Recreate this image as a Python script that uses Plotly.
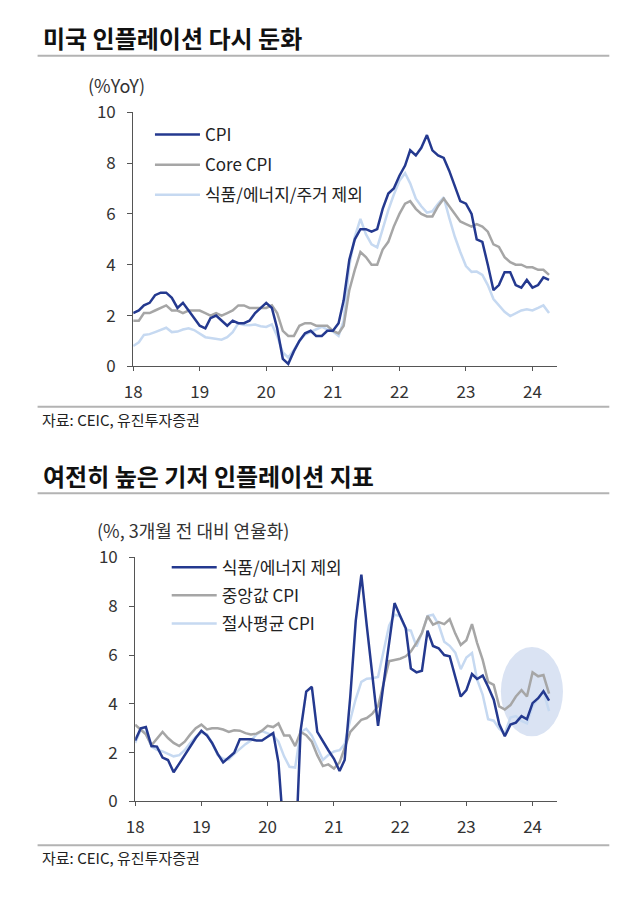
import pandas as pd
import plotly.graph_objects as go

W, H = 630, 899
FONT = "Noto Sans CJK KR"

months = pd.date_range("2018-01-01", periods=76, freq="MS")

# 상단: 미국 CPI (% YoY)
cpi = [2.1, 2.2, 2.4, 2.5, 2.8, 2.9, 2.9, 2.7, 2.3, 2.5, 2.2, 1.9,
       1.6, 1.5, 1.9, 2.0, 1.8, 1.6, 1.8, 1.7, 1.7, 1.8, 2.1, 2.3,
       2.5, 2.3, 1.5, 0.3, 0.1, 0.6, 1.0, 1.3, 1.4, 1.2, 1.2, 1.4,
       1.4, 1.7, 2.6, 4.2, 5.0, 5.4, 5.4, 5.3, 5.4, 6.2, 6.8, 7.0,
       7.5, 7.9, 8.5, 8.3, 8.6, 9.1, 8.5, 8.3, 8.2, 7.7, 7.1, 6.5,
       6.4, 6.0, 5.0, 4.9, 4.0, 3.0, 3.2, 3.7, 3.7, 3.2, 3.1, 3.4,
       3.1, 3.2, 3.5, 3.4]
core_cpi = [1.8, 1.8, 2.1, 2.1, 2.2, 2.3, 2.4, 2.2, 2.2, 2.1, 2.2, 2.2,
            2.2, 2.1, 2.0, 2.1, 2.0, 2.1, 2.2, 2.4, 2.4, 2.3, 2.3, 2.3,
            2.3, 2.4, 2.1, 1.4, 1.2, 1.2, 1.6, 1.7, 1.7, 1.6, 1.6, 1.6,
            1.4, 1.3, 1.6, 3.0, 3.8, 4.5, 4.3, 4.0, 4.0, 4.6, 4.9, 5.5,
            6.0, 6.4, 6.5, 6.2, 6.0, 5.9, 5.9, 6.3, 6.6, 6.3, 6.0, 5.7,
            5.6, 5.5, 5.6, 5.5, 5.3, 4.8, 4.7, 4.3, 4.1, 4.0, 4.0, 3.9,
            3.9, 3.8, 3.8, 3.6]
ex_shelter = [0.8, 0.95, 1.24, 1.27, 1.35, 1.45, 1.52, 1.35, 1.37, 1.45, 1.5, 1.43,
              1.3, 1.15, 1.12, 1.08, 1.05, 1.15, 1.35, 1.7, 1.63, 1.62, 1.65, 1.58,
              1.55, 1.65, 1.2, 0.55, 0.35, 0.65, 1.0, 1.25, 1.35, 1.43, 1.56, 1.45,
              1.37, 1.2, 1.8, 3.95, 5.1, 5.8, 5.2, 4.8, 4.68, 5.4, 6.15, 6.75,
              7.3, 7.6, 7.2, 6.6, 6.3, 6.05, 6.1, 6.4, 6.65, 5.85, 5.1, 4.5,
              3.95, 3.72, 3.73, 3.6, 3.2, 2.65, 2.4, 2.15, 1.98, 2.1, 2.2, 2.25,
              2.2, 2.3, 2.4, 2.1]

# 하단: 3개월 전 대비 연율화 (%)
core_3m = [2.5, 3.0, 3.05, 2.27, 2.25, 1.8, 1.7, 1.2, 1.55, 1.9, 2.25, 2.6,
           2.9, 2.7, 2.4, 1.95, 1.6, 1.8, 2.0, 2.55, 2.55, 2.55, 2.5, 2.5,
           2.65, 2.8, 1.6, -1.0, -4.5, -2.5, 2.9, 4.5, 4.7, 2.85, 2.45, 2.1,
           1.75, 1.25, 1.7, 4.3, 7.4, 9.3, 7.2, 5.15, 3.1, 4.8, 6.45, 8.13,
           7.6, 7.1, 5.45, 5.29, 5.36, 7.0, 6.37, 6.28, 6.0, 5.95, 5.1, 4.3,
           4.56, 5.22, 5.02, 5.16, 4.7, 4.17, 3.17, 2.67, 3.15, 3.23, 3.5, 3.37,
           4.03, 4.23, 4.52, 4.13]
median_cpi = [3.15, 2.95, 2.75, 2.3, 2.55, 2.85, 2.6, 2.4, 2.27, 2.45, 2.75, 3.0,
              3.15, 2.95, 3.0, 3.0, 2.95, 2.85, 2.92, 2.9, 2.8, 2.75, 2.78, 2.9,
              3.1, 3.05, 3.2, 2.7, 2.7, 2.27, 2.85, 2.72, 2.45, 1.9, 1.45, 1.52,
              1.35, 1.6, 2.2, 2.85, 3.1, 3.35, 3.42, 3.6, 3.9, 4.8, 5.75, 5.8,
              5.85, 5.95, 6.15, 6.5, 6.9, 7.6, 7.25, 7.35, 7.27, 7.47, 6.88, 6.41,
              6.61, 7.27, 6.5, 5.8, 4.9, 4.78, 3.9, 3.77, 3.95, 4.3, 4.56, 4.3,
              5.29, 5.13, 5.18, 4.42]
trimmed_cpi = [2.4, 2.95, 2.8, 2.25, 2.12, 2.05, 1.95, 1.85, 1.9, 2.1, 2.4, 2.65,
               2.82, 2.75, 2.4, 1.9, 1.75, 1.72, 1.95, 2.15, 2.35, 2.5, 2.75, 2.88,
               2.8, 2.7, 2.45, 1.85, 1.42, 1.39, 2.85, 2.98, 2.7, 2.2, 1.7, 1.9,
               2.05, 2.1, 2.35, 3.35, 4.2, 4.9, 5.03, 5.05, 5.1, 6.15, 7.2, 7.65,
               7.6, 7.05, 7.0, 6.35, 6.9, 7.6, 7.65, 7.25, 6.55, 6.38, 6.1, 5.42,
               5.9, 6.08, 5.0, 4.37, 3.37, 3.31, 2.98, 2.78, 3.44, 3.5, 3.3, 3.2,
               3.9, 4.23, 4.5, 3.7]

NAVY = "#24398f"
GRAY = "#a6a6a6"
LIGHT = "#c6d9f1"


def px(x):
    return x / W


def py(y):
    return (H - y) / H


fig = go.Figure()

# top chart (light lines drawn first so navy sits on top)
top = [("식품/에너지/주거 제외", ex_shelter, LIGHT, 3),
       ("Core CPI", core_cpi, GRAY, 2),
       ("CPI", cpi, NAVY, 1)]
for name, vals, color, rank in top:
    fig.add_trace(go.Scatter(x=months, y=vals, name=name, mode="lines",
                             line=dict(color=color, width=2.5),
                             xaxis="x", yaxis="y", legend="legend",
                             legendgroup=name, legendrank=rank))

bottom = [("절사평균 CPI", trimmed_cpi, LIGHT, 3),
          ("중앙값 CPI", median_cpi, GRAY, 2),
          ("식품/에너지 제외", core_3m, NAVY, 1)]
for name, vals, color, rank in bottom:
    fig.add_trace(go.Scatter(x=months, y=vals, name=name, mode="lines",
                             line=dict(color=color, width=2.5),
                             xaxis="x2", yaxis="y2", legend="legend2",
                             legendgroup=name + "2", legendrank=rank))

xcommon = dict(type="date", range=["2018-01-01", "2024-05-15"],
               tick0="2018-01-01", dtick="M12", tickformat="%y",
               showgrid=False, zeroline=False, showline=True,
               linecolor="#555555", linewidth=1, ticks="outside",
               ticklen=4, tickcolor="#555555", ticklabelstandoff=6,
               tickfont=dict(family=FONT, size=17, color="#333333"))
ycommon = dict(range=[0, 10], dtick=2, showgrid=False, zeroline=False,
               showline=True, linecolor="#555555", linewidth=1,
               ticks="outside", ticklen=5, tickcolor="#555555",
               ticklabelstandoff=8,
               tickfont=dict(family=FONT, size=17, color="#333333"))

legend_common = dict(bgcolor="rgba(0,0,0,0)", itemwidth=45,
                     font=dict(family=FONT, size=17, color="#222222"),
                     xanchor="left", yanchor="top", traceorder="grouped")

fig.update_layout(
    width=W, height=H, autosize=False,
    margin=dict(l=0, r=0, t=0, b=0),
    paper_bgcolor="white", plot_bgcolor="white",
    xaxis=dict(domain=[px(126), px(556)], anchor="y", **xcommon),
    yaxis=dict(domain=[py(362.5), py(101)], anchor="x", **ycommon),
    xaxis2=dict(domain=[px(128), px(556)], anchor="y2", **xcommon),
    yaxis2=dict(domain=[py(810), py(559)], anchor="x2", **ycommon),
    legend=dict(x=px(143), y=py(106), tracegroupgap=5, **legend_common),
    legend2=dict(x=px(160), y=py(551), tracegroupgap=3, **legend_common),
)

# highlight ellipse around the latest readings
fig.add_shape(type="circle", xref="paper", yref="paper",
              x0=px(499), x1=px(562), y0=py(743), y1=py(651),
              fillcolor="#dae3f3", line=dict(width=0), layer="below")

# header / footer rules
for y in (43, 404, 493, 855):
    fig.add_shape(type="line", xref="paper", yref="paper",
                  x0=px(29), x1=px(609), y0=py(y), y1=py(y),
                  line=dict(color="#b3b3b3", width=2))

texts = [
    ("<b>미국 인플레이션 다시 둔화</b>", 32, 24, 24, "#111111"),
    ("<b>여전히 높은 기저 인플레이션 지표</b>", 32, 475, 24, "#111111"),
    ("(%YoY)", 78, 73, 18, "#333333"),
    ("(%, 3개월 전 대비 연율화)", 87, 531, 18, "#333333"),
    ("자료: CEIC, 유진투자증권", 31, 417, 15, "#222222"),
    ("자료: CEIC, 유진투자증권", 31, 868, 15, "#222222"),
]
for text, x, y, size, color in texts:
    fig.add_annotation(text=text, xref="paper", yref="paper",
                       x=px(x), y=py(y), xanchor="left", yanchor="middle",
                       showarrow=False,
                       font=dict(family=FONT, size=size, color=color))

fig.write_html("out.html", config={"displayModeBar": False},
               post_script="document.body.style.margin='0';"
                           "document.body.style.overflow='hidden';")
